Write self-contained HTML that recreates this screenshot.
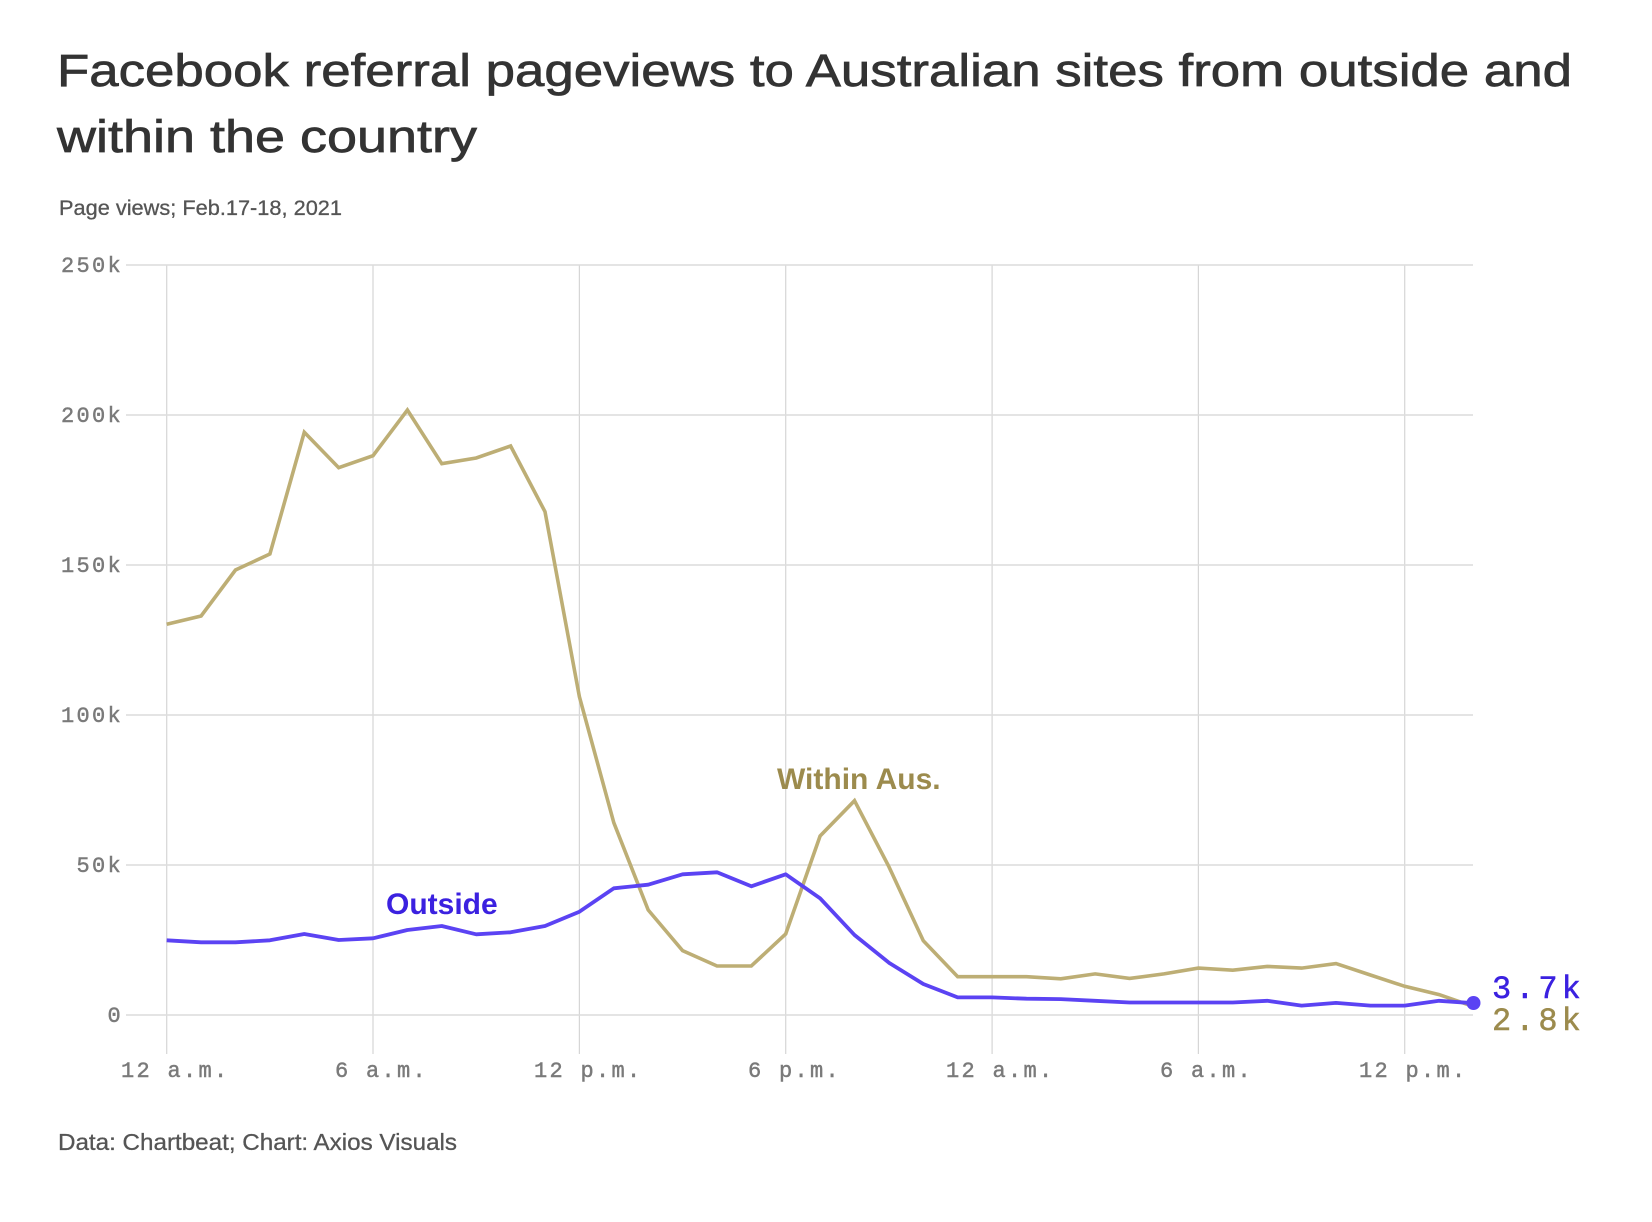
<!DOCTYPE html>
<html>
<head>
<meta charset="utf-8">
<style>
  html, body { margin: 0; padding: 0; background: #ffffff; }
  svg { display: block; }
  .title { font-family: "Liberation Sans", Arial, sans-serif; font-size: 45px; fill: #333333; stroke: #333333; stroke-width: 0.7px; }
  .sub { font-family: "Liberation Sans", Arial, sans-serif; font-size: 21px; fill: #555555; stroke: #555555; stroke-width: 0.3px; }
  .foot { font-family: "Liberation Sans", Arial, sans-serif; font-size: 23px; fill: #555555; stroke: #555555; stroke-width: 0.3px; }
  .tick { font-family: "Liberation Mono", "DejaVu Sans Mono", monospace; font-size: 22px; fill: #7a7a7a; stroke: #7a7a7a; stroke-width: 0.45px; letter-spacing: 2.3px; }
  .end { font-family: "Liberation Mono", "DejaVu Sans Mono", monospace; font-size: 32px; letter-spacing: 4px; stroke-width: 0.5px; }
  .lab { font-family: "Liberation Sans", Arial, sans-serif; font-size: 30px; font-weight: bold; }
</style>
</head>
<body>
<svg width="1652" height="1222" viewBox="0 0 1652 1222" xmlns="http://www.w3.org/2000/svg">
  <rect width="1652" height="1222" fill="#ffffff"/>

  <!-- Title -->
  <text class="title" x="57" y="86" textLength="1515" lengthAdjust="spacingAndGlyphs">Facebook referral pageviews to Australian sites from outside and</text>
  <text class="title" x="57" y="152" textLength="420" lengthAdjust="spacingAndGlyphs">within the country</text>

  <!-- Subtitle -->
  <text class="sub" x="59" y="215" textLength="283" lengthAdjust="spacingAndGlyphs">Page views; Feb.17-18, 2021</text>

  <!-- Vertical gridlines -->
  <g stroke="#d6d6d6" stroke-width="1.2">
    <line x1="166.7" y1="265" x2="166.7" y2="1054"/>
    <line x1="373.0" y1="265" x2="373.0" y2="1054"/>
    <line x1="579.4" y1="265" x2="579.4" y2="1054"/>
    <line x1="785.7" y1="265" x2="785.7" y2="1054"/>
    <line x1="992.1" y1="265" x2="992.1" y2="1054"/>
    <line x1="1198.4" y1="265" x2="1198.4" y2="1054"/>
    <line x1="1404.7" y1="265" x2="1404.7" y2="1054"/>
  </g>

  <!-- Horizontal gridlines -->
  <g stroke="#dcdcdc" stroke-width="1.5">
    <line x1="126" y1="265" x2="1473" y2="265"/>
    <line x1="126" y1="415" x2="1473" y2="415"/>
    <line x1="126" y1="565" x2="1473" y2="565"/>
    <line x1="126" y1="715" x2="1473" y2="715"/>
    <line x1="126" y1="865" x2="1473" y2="865"/>
    <line x1="126" y1="1015" x2="1473" y2="1015"/>
  </g>

  <!-- Y-axis labels -->
  <g class="tick" text-anchor="end">
    <text x="123" y="272">250k</text>
    <text x="123" y="422">200k</text>
    <text x="123" y="572">150k</text>
    <text x="123" y="722">100k</text>
    <text x="123" y="872">50k</text>
    <text x="123" y="1022">0</text>
  </g>

  <!-- X-axis labels -->
  <g class="tick">
    <text x="121" y="1077">12 a.m.</text>
    <text x="335" y="1077">6 a.m.</text>
    <text x="534" y="1077">12 p.m.</text>
    <text x="748" y="1077">6 p.m.</text>
    <text x="946" y="1077">12 a.m.</text>
    <text x="1160" y="1077">6 a.m.</text>
    <text x="1359" y="1077">12 p.m.</text>
  </g>

  <!-- Within Aus. series -->
  <polyline fill="none" stroke="#bdae75" stroke-width="3.6" stroke-linejoin="miter" stroke-linecap="butt"
    points="166.7,624.3 201.1,616 235.5,570 269.9,554 304.3,432.3 338.7,467.7 373.0,455.7 407.4,410 441.8,463.7 476.2,458 510.6,446 545.0,511.7 579.4,696.7 613.8,822.7 648.2,910 682.6,950.7 717.0,966 751.3,966 785.7,934 820.1,836 854.5,800.7 888.9,866.7 923.3,940.7 957.7,976.7 992.1,976.7 1026.5,976.7 1060.8,978.8 1095.2,973.9 1129.6,978.4 1164.0,973.9 1198.4,968.1 1232.8,970.2 1267.2,966.4 1301.6,968.1 1336.0,963.6 1370.4,975 1404.7,986.3 1439.1,994.6 1473.5,1006.6"/>

  <!-- Outside series -->
  <polyline fill="none" stroke="#5b43f3" stroke-width="3.8" stroke-linejoin="round" stroke-linecap="butt"
    points="166.7,940.3 201.1,942.3 235.5,942.3 269.9,940.3 304.3,934 338.7,940 373.0,938.3 407.4,930 441.8,926 476.2,934.3 510.6,932.3 545.0,926 579.4,911.7 613.8,888.3 648.2,884.7 682.6,874.3 717.0,872.3 751.3,886.3 785.7,874.3 820.1,898.3 854.5,935 888.9,962.7 923.3,984 957.7,997.4 992.1,997.4 1026.5,998.7 1060.8,999.1 1095.2,1000.8 1129.6,1002.5 1164.0,1002.5 1198.4,1002.5 1232.8,1002.5 1267.2,1000.8 1301.6,1005.6 1336.0,1002.9 1370.4,1005.6 1404.7,1005.6 1439.1,1000.8 1473.5,1003.2"/>

  <circle cx="1473.5" cy="1003" r="7" fill="#5b43f3"/>

  <!-- Series labels -->
  <text class="lab" x="386" y="914" fill="#3b21e0">Outside</text>
  <text class="lab" x="777" y="789" fill="#9c8b4d">Within Aus.</text>

  <!-- End values -->
  <text class="end" x="1492" y="998" fill="#3b21e0" stroke="#3b21e0">3.7k</text>
  <text class="end" x="1492" y="1030" fill="#9c8b4d" stroke="#9c8b4d">2.8k</text>

  <!-- Footer -->
  <text class="foot" x="58" y="1150" textLength="399" lengthAdjust="spacingAndGlyphs">Data: Chartbeat; Chart: Axios Visuals</text>
</svg>
</body>
</html>
